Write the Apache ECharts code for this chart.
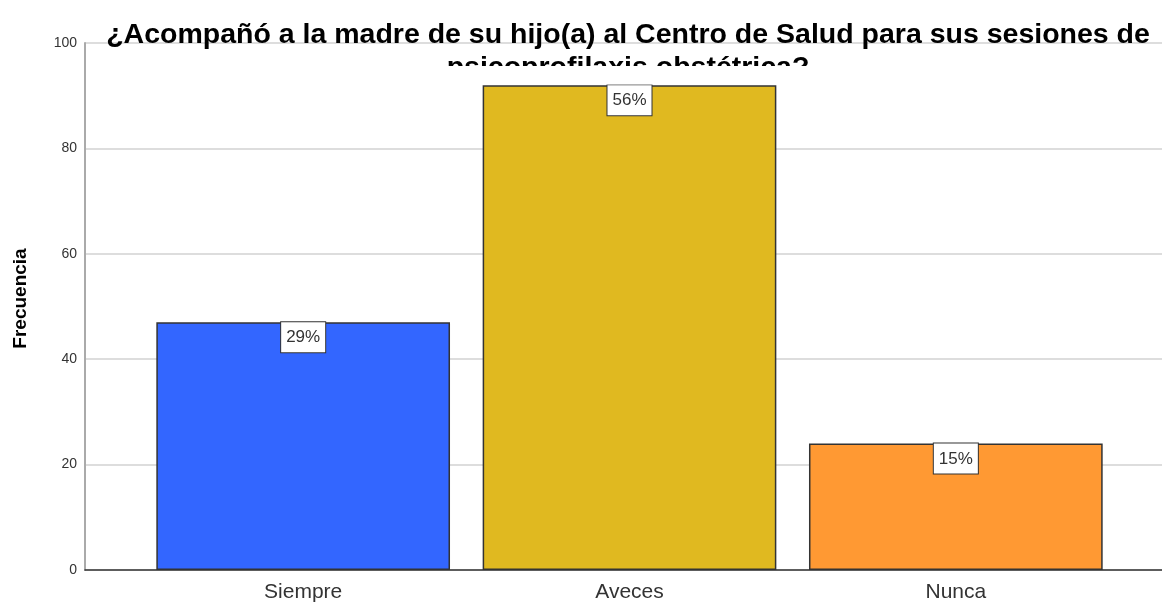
<!DOCTYPE html>
<html>
<head>
<meta charset="utf-8">
<script src="https://cdn.jsdelivr.net/npm/echarts@6/dist/echarts.min.js"></script>
<style>
  html, body { margin: 0; padding: 0; background: #fff; }
  #main { width: 1162px; height: 603px; }
</style>
</head>
<body>
<div id="main"></div>
<script>
const categories = ['Siempre', 'Aveces', 'Nunca'];
const counts = [47, 92, 24];
const barColors = ['#3366ff', '#e0b920', '#ff9933'];
const yTicks = { min: 0, max: 100, interval: 20 };

const total = counts.reduce((a, b) => a + b, 0);

const chart = echarts.init(document.getElementById('main'), null, { renderer: 'canvas' });

const option = {
  backgroundColor: '#ffffff',
  animation: false,
  title: {
    text: '¿Acompañó a la madre de su hijo(a) al Centro de Salud para sus sesiones de\npsicoprofilaxis obstétrica?',
    left: 623,
    top: 14,
    textAlign: 'center',
    textStyle: {
      fontFamily: 'Liberation Sans',
      fontWeight: 'bold',
      fontSize: 28.5,
      lineHeight: 33,
      color: '#000'
    }
  },
  graphic: [{
    // the second title line is cut off in the original
    type: 'rect',
    z: 100,
    shape: { x: 400, y: 66, width: 460, height: 18.5 },
    style: { fill: '#ffffff' }
  }],
  grid: [
    { left: 85, right: 0, top: 43, bottom: 33, outerBoundsMode: 'none' },
    { left: 140, right: 43, top: 43, bottom: 33, outerBoundsMode: 'none' }
  ],
  xAxis: [{
    gridIndex: 0,
    type: 'category',
    data: [''],
    axisLine: { lineStyle: { color: '#333', width: 1.5 } },
    axisTick: { show: false },
    axisLabel: { show: false }
  }, {
    gridIndex: 1,
    type: 'category',
    data: categories,
    axisLine: { show: false },
    axisTick: { show: false },
    axisLabel: {
      margin: 12,
      fontFamily: 'Liberation Sans',
      fontSize: 21,
      color: '#333'
    }
  }],
  yAxis: [{
    gridIndex: 0,
    type: 'value',
    min: yTicks.min,
    max: yTicks.max,
    interval: yTicks.interval,
    name: 'Frecuencia',
    nameLocation: 'middle',
    nameGap: 55,
    nameTextStyle: {
      fontFamily: 'Liberation Sans',
      fontWeight: 'bold',
      fontSize: 19,
      color: '#000',
      padding: [0, 0, 0, 16]
    },
    axisLine: { show: true, lineStyle: { color: '#aaa', width: 2 } },
    axisTick: { show: false },
    axisLabel: {
      margin: 8,
      fontFamily: 'Liberation Sans',
      fontSize: 14,
      color: '#333'
    },
    splitLine: { lineStyle: { color: '#d2d2d2', width: 1.5 } }
  }, {
    gridIndex: 1,
    type: 'value',
    min: yTicks.min,
    max: yTicks.max,
    interval: yTicks.interval,
    show: false
  }],
  series: [{
    type: 'bar',
    xAxisIndex: 1,
    yAxisIndex: 1,
    barWidth: '90%',
    data: counts.map((v, i) => ({
      value: v,
      itemStyle: { color: barColors[i] }
    })),
    itemStyle: { borderColor: '#333', borderWidth: 1.5 },
    label: {
      show: true,
      position: 'insideTop',
      distance: 0,
      formatter: (p) => Math.round(p.value / total * 100) + '%',
      fontFamily: 'Liberation Sans',
      fontSize: 17,
      color: '#333',
      backgroundColor: '#fff',
      borderColor: '#333',
      borderWidth: 1,
      padding: [7, 5, 6, 5]
    }
  }]
};

chart.setOption(option);
</script>
</body>
</html>
